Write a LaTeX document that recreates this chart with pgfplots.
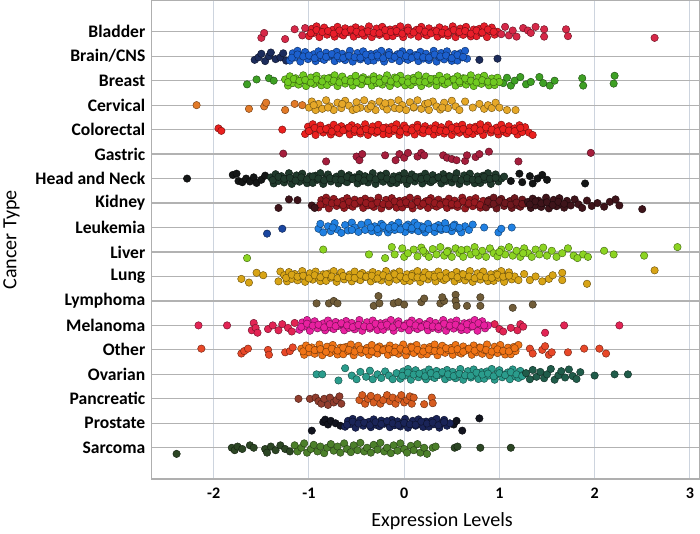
\documentclass[border=0pt]{standalone}
\usepackage{pgfplots}
\pgfplotsset{compat=1.18}
\usepackage{fontspec}
\setmainfont{Carlito}
\definecolor{bladC}{RGB}{232,30,42}
\definecolor{bladR}{RGB}{214,40,72}
\definecolor{brainC}{RGB}{28,96,206}
\definecolor{brainD}{RGB}{28,44,92}
\definecolor{breaC}{RGB}{112,202,32}
\definecolor{breaD}{RGB}{62,160,36}
\definecolor{cervC}{RGB}{230,168,40}
\definecolor{cervO}{RGB}{226,122,40}
\definecolor{coloC}{RGB}{234,32,30}
\definecolor{gastC}{RGB}{165,30,60}
\definecolor{headC}{RGB}{32,58,44}
\definecolor{headK}{RGB}{20,22,22}
\definecolor{kidC}{RGB}{150,26,32}
\definecolor{kidM}{RGB}{110,24,30}
\definecolor{kidD}{RGB}{62,20,26}
\definecolor{leuC}{RGB}{32,128,226}
\definecolor{leuD}{RGB}{26,70,160}
\definecolor{livC}{RGB}{140,212,34}
\definecolor{lunC}{RGB}{216,164,22}
\definecolor{lymC}{RGB}{112,92,56}
\definecolor{melC}{RGB}{232,32,160}
\definecolor{melR}{RGB}{226,36,84}
\definecolor{othC}{RGB}{240,116,22}
\definecolor{othR}{RGB}{232,72,40}
\definecolor{ovaC}{RGB}{42,156,140}
\definecolor{ovaD}{RGB}{32,92,74}
\definecolor{panC}{RGB}{214,92,32}
\definecolor{panD}{RGB}{146,62,46}
\definecolor{proC}{RGB}{26,36,88}
\definecolor{proK}{RGB}{18,20,30}
\definecolor{sarC}{RGB}{76,128,42}
\definecolor{sarD}{RGB}{44,70,36}
\definecolor{gridX}{RGB}{205,212,222}
\definecolor{gridY}{RGB}{178,178,178}
\definecolor{frameC}{RGB}{175,175,175}
\pgfplotsset{dot/.style={only marks, mark=*, mark size=3.7pt, mark options={fill=#1, draw=#1!50!black, line width=0.45pt}}}
\begin{document}
\begin{tikzpicture}
\begin{axis}[
 scale only axis, width=545pt, height=476pt,
 xmin=-2.65, xmax=3.1, ymin=-1.27, ymax=18.27, y dir=reverse,
 xtick={-2,-1,0,1,2,3}, xticklabels={-2,-1,0,1,2,3},
 ytick={0,1,2,3,4,5,6,7,8,9,10,11,12,13,14,15,16,17},
 yticklabels={Bladder,Brain/CNS,Breast,Cervical,Colorectal,Gastric,Head and Neck,Kidney,Leukemia,Liver,Lung,Lymphoma,Melanoma,Other,Ovarian,Pancreatic,Prostate,Sarcoma},
 major tick length=0pt,
 xmajorgrids, ymajorgrids,
 x grid style={draw=gridX, line width=1pt},
 y grid style={draw=gridY, line width=1.2pt},
 axis line style={draw=frameC, line width=1.3pt},
 xticklabel style={font=\bfseries\fontsize{16}{16}\selectfont, yshift=-6pt},
 yticklabel style={font=\bfseries\fontsize{17.5}{17.5}\selectfont, xshift=-3pt},
 xlabel={Expression Levels}, ylabel={Cancer Type},
 xlabel style={font=\fontsize{20}{24}\selectfont, at={(axis description cs:0.53,0)}, anchor=north, yshift=-30pt},
 ylabel style={font=\fontsize{20}{24}\selectfont, at={(axis description cs:-0.235,0.5)}, anchor=south},
]
% Bladder (0)
\addplot[dot=bladC] table[row sep=\\, y expr=\thisrow{j}+0]{x j\\
-1.00 0.18\\ -0.97 -0.12\\ -0.95 0.05\\ -0.92 -0.22\\ -0.89 0.22\\ -0.86 -0.03\\ -0.84 -0.17\\ -0.81 0.12\\ -0.78 0.00\\ -0.75 -0.08\\ -0.73 0.20\\ -0.70 -0.20\\ -0.67 0.09\\ -0.64 0.15\\ -0.62 -0.14\\ -0.59 0.02\\
-0.56 -0.05\\ -0.53 0.20\\ -0.51 -0.18\\ -0.48 0.10\\ -0.45 -0.10\\ -0.42 0.16\\ -0.40 0.00\\ -0.37 -0.22\\ -0.34 0.22\\ -0.31 0.04\\ -0.29 -0.13\\ -0.26 0.13\\ -0.23 -0.20\\ -0.20 0.07\\ -0.18 0.19\\ -0.15 -0.09\\
-0.12 0.18\\ -0.09 -0.12\\ -0.07 0.05\\ -0.04 -0.22\\ -0.01 0.22\\ 0.02 -0.03\\ 0.04 -0.17\\ 0.07 0.12\\ 0.10 0.00\\ 0.13 -0.08\\ 0.15 0.20\\ 0.18 -0.20\\ 0.21 0.09\\ 0.24 0.15\\ 0.26 -0.14\\ 0.29 0.02\\
0.32 -0.05\\ 0.35 0.20\\ 0.37 -0.18\\ 0.40 0.10\\ 0.43 -0.10\\ 0.46 0.16\\ 0.48 0.00\\ 0.51 -0.22\\ 0.54 0.22\\ 0.57 0.04\\ 0.59 -0.13\\ 0.62 0.13\\ 0.65 -0.20\\ 0.68 0.07\\ 0.70 0.19\\ 0.73 -0.09\\
0.76 0.18\\ 0.79 -0.12\\ 0.81 0.05\\ 0.84 -0.22\\ 0.87 0.22\\ 0.90 -0.03\\ 0.92 -0.17\\ 0.95 0.12\\ 0.98 0.00\\
-0.98 0.06\\ -0.92 -0.07\\ -0.86 0.01\\ -0.80 -0.03\\ -0.74 0.08\\ -0.68 -0.05\\ -0.62 0.03\\ -0.56 -0.09\\ -0.50 0.00\\ -0.44 0.07\\ -0.38 -0.02\\ -0.32 0.04\\ -0.26 0.06\\ -0.20 -0.07\\ -0.14 0.01\\ -0.08 -0.03\\ -0.02 0.08\\ 0.04 -0.05\\ 0.10 0.03\\ 0.16 -0.09\\ 0.22 0.00\\ 0.28 0.07\\ 0.34 -0.02\\ 0.40 0.04\\ 0.46 0.06\\ 0.52 -0.07\\ 0.58 0.01\\ 0.64 -0.03\\ 0.70 0.08\\ 0.76 -0.05\\ 0.82 0.03\\ 0.88 -0.09\\ 0.94 0.00\\
};
\addplot[dot=bladR] table[row sep=\\, y expr=\thisrow{j}+0]{x j\\
-1.50 0.25\\ -1.47 0.05\\ -1.25 0.30\\ -1.15 -0.10\\ -1.07 0.15\\ -1.04 -0.15\\ 1.02 0.10\\ 1.06 -0.20\\ 1.10 0.15\\ 1.14 -0.05\\ 1.18 0.20\\ 1.25 -0.15\\ 1.30 -0.05\\ 1.33 0.05\\ 1.38 -0.20\\ 1.47 -0.10\\ 1.47 0.20\\ 1.70 -0.10\\ 1.72 0.18\\ 2.63 0.25\\
};
% Brain (1)
\addplot[dot=brainD] table[row sep=\\, y expr=\thisrow{j}+1]{x j\\
-1.57 0.15\\ -1.53 0.05\\ -1.50 -0.10\\ -1.46 0.20\\ -1.42 0.00\\ -1.40 -0.15\\ -1.35 0.12\\ -1.30 0.05\\ -1.27 -0.12\\ -1.24 0.18\\ 0.79 0.15\\ 0.98 0.10\\
};
\addplot[dot=brainC] table[row sep=\\, y expr=\thisrow{j}+1]{x j\\
-1.20 0.18\\ -1.17 -0.12\\ -1.15 0.05\\ -1.12 -0.22\\ -1.09 0.22\\ -1.06 -0.03\\ -1.04 -0.17\\ -1.01 0.12\\ -0.98 0.00\\ -0.95 -0.08\\ -0.93 0.20\\ -0.90 -0.20\\ -0.87 0.09\\ -0.84 0.15\\ -0.82 -0.14\\ -0.79 0.02\\
-0.76 -0.05\\ -0.73 0.20\\ -0.71 -0.18\\ -0.68 0.10\\ -0.65 -0.10\\ -0.62 0.16\\ -0.60 0.00\\ -0.57 -0.22\\ -0.54 0.22\\ -0.51 0.04\\ -0.49 -0.13\\ -0.46 0.13\\ -0.43 -0.20\\ -0.40 0.07\\ -0.38 0.19\\ -0.35 -0.09\\
-0.32 0.18\\ -0.29 -0.12\\ -0.27 0.05\\ -0.24 -0.22\\ -0.21 0.22\\ -0.18 -0.03\\ -0.16 -0.17\\ -0.13 0.12\\ -0.10 0.00\\ -0.07 -0.08\\ -0.05 0.20\\ -0.02 -0.20\\ 0.01 0.09\\ 0.04 0.15\\ 0.06 -0.14\\ 0.09 0.02\\
0.12 -0.05\\ 0.15 0.20\\ 0.17 -0.18\\ 0.20 0.10\\ 0.23 -0.10\\ 0.26 0.16\\ 0.28 0.00\\ 0.31 -0.22\\ 0.34 0.22\\ 0.37 0.04\\ 0.39 -0.13\\ 0.42 0.13\\ 0.45 -0.20\\ 0.48 0.07\\ 0.50 0.19\\ 0.53 -0.09\\
0.56 0.18\\ 0.59 -0.12\\ 0.61 0.05\\ 0.64 -0.22\\ 0.66 0.10\\
-1.18 0.06\\ -1.12 -0.07\\ -1.06 0.01\\ -1.00 -0.03\\ -0.94 0.08\\ -0.88 -0.05\\ -0.82 0.03\\ -0.76 -0.09\\ -0.70 0.00\\ -0.64 0.07\\ -0.58 -0.02\\ -0.52 0.04\\ -0.46 0.06\\ -0.40 -0.07\\ -0.34 0.01\\ -0.28 -0.03\\ -0.22 0.08\\ -0.16 -0.05\\ -0.10 0.03\\ -0.04 -0.09\\ 0.02 0.00\\ 0.08 0.07\\ 0.14 -0.02\\ 0.20 0.04\\ 0.26 0.06\\ 0.32 -0.07\\ 0.38 0.01\\ 0.44 -0.03\\ 0.50 0.08\\ 0.56 -0.05\\ 0.62 0.03\\
};
% Breast (2)
\addplot[dot=breaD] table[row sep=\\, y expr=\thisrow{j}+2]{x j\\
-1.65 0.15\\ -1.55 -0.05\\ -1.42 -0.10\\ -1.37 0.00\\ 1.04 0.10\\ 1.08 -0.12\\ 1.12 0.20\\ 1.16 0.00\\ 1.22 -0.15\\ 1.28 0.15\\ 1.33 0.05\\ 1.42 -0.15\\ 1.46 0.10\\ 1.53 0.20\\ 1.58 0.00\\ 1.87 -0.10\\ 1.88 0.20\\ 2.21 -0.20\\ 2.20 0.12\\
};
\addplot[dot=breaC] table[row sep=\\, y expr=\thisrow{j}+2]{x j\\
-1.25 -0.05\\ -1.22 0.20\\ -1.20 -0.18\\ -1.17 0.10\\ -1.14 -0.10\\ -1.11 0.16\\ -1.09 0.00\\ -1.06 -0.22\\ -1.03 0.22\\ -1.00 0.04\\ -0.98 -0.13\\ -0.95 0.13\\ -0.92 -0.20\\ -0.89 0.07\\ -0.87 0.19\\ -0.84 -0.09\\
-0.81 0.18\\ -0.78 -0.12\\ -0.76 0.05\\ -0.73 -0.22\\ -0.70 0.22\\ -0.67 -0.03\\ -0.65 -0.17\\ -0.62 0.12\\ -0.59 0.00\\ -0.56 -0.08\\ -0.54 0.20\\ -0.51 -0.20\\ -0.48 0.09\\ -0.45 0.15\\ -0.43 -0.14\\ -0.40 0.02\\
-0.37 -0.05\\ -0.34 0.20\\ -0.32 -0.18\\ -0.29 0.10\\ -0.26 -0.10\\ -0.23 0.16\\ -0.21 0.00\\ -0.18 -0.22\\ -0.15 0.22\\ -0.12 0.04\\ -0.10 -0.13\\ -0.07 0.13\\ -0.04 -0.20\\ -0.01 0.07\\ 0.01 0.19\\ 0.04 -0.09\\
0.07 0.18\\ 0.10 -0.12\\ 0.12 0.05\\ 0.15 -0.22\\ 0.18 0.22\\ 0.21 -0.03\\ 0.23 -0.17\\ 0.26 0.12\\ 0.29 0.00\\ 0.32 -0.08\\ 0.34 0.20\\ 0.37 -0.20\\ 0.40 0.09\\ 0.43 0.15\\ 0.45 -0.14\\ 0.48 0.02\\
0.51 -0.05\\ 0.54 0.20\\ 0.56 -0.18\\ 0.59 0.10\\ 0.62 -0.10\\ 0.65 0.16\\ 0.67 0.00\\ 0.70 -0.22\\ 0.73 0.22\\ 0.76 0.04\\ 0.78 -0.13\\ 0.81 0.13\\ 0.84 -0.20\\ 0.87 0.07\\ 0.89 0.19\\ 0.92 -0.09\\
0.95 0.18\\ 0.98 -0.12\\ 1.00 0.05\\
-1.22 0.06\\ -1.16 -0.07\\ -1.10 0.01\\ -1.04 -0.03\\ -0.98 0.08\\ -0.92 -0.05\\ -0.86 0.03\\ -0.80 -0.09\\ -0.74 0.00\\ -0.68 0.07\\ -0.62 -0.02\\ -0.56 0.04\\ -0.50 0.06\\ -0.44 -0.07\\ -0.38 0.01\\ -0.32 -0.03\\ -0.26 0.08\\ -0.20 -0.05\\ -0.14 0.03\\ -0.08 -0.09\\ -0.02 0.00\\ 0.04 0.07\\ 0.10 -0.02\\ 0.16 0.04\\ 0.22 0.06\\ 0.28 -0.07\\ 0.34 0.01\\ 0.40 -0.03\\ 0.46 0.08\\ 0.52 -0.05\\ 0.58 0.03\\ 0.64 -0.09\\ 0.70 0.00\\ 0.76 0.07\\ 0.82 -0.02\\ 0.88 0.04\\ 0.94 0.06\\
};
% Cervical (3)
\addplot[dot=cervO] table[row sep=\\, y expr=\thisrow{j}+3]{x j\\
-2.18 0.00\\ -1.63 0.15\\ -1.47 0.05\\ -1.45 -0.10\\ -1.25 0.20\\ -1.15 -0.05\\ -1.07 0.00\\
};
\addplot[dot=cervC] table[row sep=\\, y expr=\thisrow{j}+3]{x j\\
-1.00 0.10\\ -0.97 -0.15\\ -0.93 0.20\\ -0.90 -0.05\\ -0.86 0.15\\ -0.82 -0.20\\ -0.78 0.05\\ -0.74 0.20\\ -0.70 -0.10\\ -0.66 0.12\\ -0.62 -0.18\\ -0.58 0.02\\ -0.54 0.20\\ -0.50 -0.12\\ -0.46 0.10\\ -0.42 -0.20\\ -0.38 0.15\\ -0.34 -0.05\\ -0.30 0.20\\ -0.26 -0.15\\ -0.22 0.05\\ -0.18 0.18\\ -0.14 -0.10\\ -0.10 0.12\\ -0.06 -0.20\\ -0.02 0.00\\ 0.02 0.20\\ 0.06 -0.12\\ 0.10 0.10\\ 0.14 -0.20\\ 0.18 0.15\\ 0.22 -0.05\\ 0.26 0.20\\ 0.30 -0.15\\ 0.34 0.05\\ 0.38 0.18\\ 0.42 -0.10\\ 0.46 0.12\\ 0.50 -0.18\\ 0.54 0.05\\ 0.58 0.20\\
-0.95 0.00\\ -0.80 0.10\\ -0.65 -0.05\\ -0.50 0.15\\ -0.35 0.05\\ -0.20 -0.08\\ -0.05 0.15\\ 0.10 0.08\\ 0.25 -0.08\\ 0.40 0.10\\
0.64 -0.15\\ 0.72 0.10\\ 0.79 -0.05\\ 0.84 0.15\\ 0.88 0.00\\ 0.92 0.12\\ 0.96 -0.10\\ 1.00 0.10\\ 1.08 0.20\\ 1.17 0.20\\
};
% Colorectal (4)
\addplot[dot=coloC] table[row sep=\\, y expr=\thisrow{j}+4]{x j\\
-1.95 -0.05\\ -1.92 0.05\\ -1.28 0.00\\
-1.04 0.18\\ -1.01 -0.12\\ -0.99 0.05\\ -0.96 -0.22\\ -0.93 0.22\\ -0.90 -0.03\\ -0.88 -0.17\\ -0.85 0.12\\ -0.82 0.00\\ -0.79 -0.08\\ -0.77 0.20\\ -0.74 -0.20\\ -0.71 0.09\\ -0.68 0.15\\ -0.66 -0.14\\ -0.63 0.02\\
-0.60 -0.05\\ -0.57 0.20\\ -0.55 -0.18\\ -0.52 0.10\\ -0.49 -0.10\\ -0.46 0.16\\ -0.44 0.00\\ -0.41 -0.22\\ -0.38 0.22\\ -0.35 0.04\\ -0.33 -0.13\\ -0.30 0.13\\ -0.27 -0.20\\ -0.24 0.07\\ -0.22 0.19\\ -0.19 -0.09\\
-0.16 0.18\\ -0.13 -0.12\\ -0.11 0.05\\ -0.08 -0.22\\ -0.05 0.22\\ -0.02 -0.03\\ 0.00 -0.17\\ 0.03 0.12\\ 0.06 0.00\\ 0.09 -0.08\\ 0.11 0.20\\ 0.14 -0.20\\ 0.17 0.09\\ 0.20 0.15\\ 0.22 -0.14\\ 0.25 0.02\\
0.28 -0.05\\ 0.31 0.20\\ 0.33 -0.18\\ 0.36 0.10\\ 0.39 -0.10\\ 0.42 0.16\\ 0.44 0.00\\ 0.47 -0.22\\ 0.50 0.22\\ 0.53 0.04\\ 0.55 -0.13\\ 0.58 0.13\\ 0.61 -0.20\\ 0.64 0.07\\ 0.66 0.19\\ 0.69 -0.09\\
0.72 0.18\\ 0.75 -0.12\\ 0.77 0.05\\ 0.80 -0.22\\ 0.83 0.22\\ 0.86 -0.03\\ 0.88 -0.17\\ 0.91 0.12\\ 0.94 0.00\\ 0.97 -0.08\\ 0.99 0.20\\ 1.02 -0.20\\ 1.05 0.09\\ 1.08 0.15\\ 1.10 -0.14\\ 1.13 0.02\\
1.16 -0.05\\ 1.19 0.20\\ 1.21 -0.18\\ 1.24 0.10\\ 1.27 -0.10\\ 1.31 0.12\\ 1.35 0.22\\
-1.00 0.06\\ -0.94 -0.07\\ -0.88 0.01\\ -0.82 -0.03\\ -0.76 0.08\\ -0.70 -0.05\\ -0.64 0.03\\ -0.58 -0.09\\ -0.52 0.00\\ -0.46 0.07\\ -0.40 -0.02\\ -0.34 0.04\\ -0.28 0.06\\ -0.22 -0.07\\ -0.16 0.01\\ -0.10 -0.03\\ -0.04 0.08\\ 0.02 -0.05\\ 0.08 0.03\\ 0.14 -0.09\\ 0.20 0.00\\ 0.26 0.07\\ 0.32 -0.02\\ 0.38 0.04\\ 0.44 0.06\\ 0.50 -0.07\\ 0.56 0.01\\ 0.62 -0.03\\ 0.68 0.08\\ 0.74 -0.05\\ 0.80 0.03\\ 0.86 -0.09\\ 0.92 0.00\\ 0.98 0.07\\ 1.04 -0.02\\ 1.10 0.04\\ 1.16 0.06\\ 1.22 -0.07\\
};
% Gastric (5)
\addplot[dot=gastC] table[row sep=\\, y expr=\thisrow{j}+5]{x j\\
-1.27 -0.02\\ -0.82 0.30\\ -0.50 0.10\\ -0.47 0.25\\ -0.44 0.00\\ -0.20 0.05\\ -0.09 0.25\\ -0.05 0.00\\ 0.00 0.15\\ 0.04 -0.05\\ 0.14 0.10\\ 0.18 -0.05\\ 0.21 0.05\\ 0.41 0.05\\ 0.45 0.15\\ 0.50 0.20\\ 0.55 0.25\\ 0.64 0.28\\ 0.66 0.05\\ 0.75 0.12\\ 0.79 0.00\\ 0.89 -0.10\\ 1.20 0.30\\ 1.96 -0.05\\
};
% Head and Neck (6)
\addplot[dot=headK] table[row sep=\\, y expr=\thisrow{j}+6]{x j\\
-2.28 0.00\\ -1.80 -0.15\\ -1.76 -0.20\\ -1.74 0.10\\ -1.70 0.15\\ -1.66 0.00\\ -1.62 0.12\\ -1.58 -0.05\\ -1.55 0.18\\ -1.50 0.05\\ -1.46 -0.12\\
1.12 0.10\\ 1.21 -0.20\\ 1.24 0.15\\ 1.32 -0.10\\ 1.35 0.20\\ 1.40 0.00\\ 1.45 -0.15\\ 1.50 0.05\\ 1.90 0.20\\
};
\addplot[dot=headC] table[row sep=\\, y expr=\thisrow{j}+6]{x j\\
-1.40 -0.05\\ -1.37 0.20\\ -1.35 -0.18\\ -1.32 0.10\\ -1.29 -0.10\\ -1.26 0.16\\ -1.24 0.00\\ -1.21 -0.22\\ -1.18 0.22\\ -1.15 0.04\\ -1.13 -0.13\\ -1.10 0.13\\ -1.07 -0.20\\ -1.04 0.07\\ -1.02 0.19\\ -0.99 -0.09\\
-0.96 0.18\\ -0.93 -0.12\\ -0.91 0.05\\ -0.88 -0.22\\ -0.85 0.22\\ -0.82 -0.03\\ -0.80 -0.17\\ -0.77 0.12\\ -0.74 0.00\\ -0.71 -0.08\\ -0.69 0.20\\ -0.66 -0.20\\ -0.63 0.09\\ -0.60 0.15\\ -0.58 -0.14\\ -0.55 0.02\\
-0.52 -0.05\\ -0.49 0.20\\ -0.47 -0.18\\ -0.44 0.10\\ -0.41 -0.10\\ -0.38 0.16\\ -0.36 0.00\\ -0.33 -0.22\\ -0.30 0.22\\ -0.27 0.04\\ -0.25 -0.13\\ -0.22 0.13\\ -0.19 -0.20\\ -0.16 0.07\\ -0.14 0.19\\ -0.11 -0.09\\
-0.08 0.18\\ -0.05 -0.12\\ -0.03 0.05\\ 0.00 -0.22\\ 0.03 0.22\\ 0.06 -0.03\\ 0.08 -0.17\\ 0.11 0.12\\ 0.14 0.00\\ 0.17 -0.08\\ 0.19 0.20\\ 0.22 -0.20\\ 0.25 0.09\\ 0.28 0.15\\ 0.30 -0.14\\ 0.33 0.02\\
0.36 -0.05\\ 0.39 0.20\\ 0.41 -0.18\\ 0.44 0.10\\ 0.47 -0.10\\ 0.50 0.16\\ 0.52 0.00\\ 0.55 -0.22\\ 0.58 0.22\\ 0.61 0.04\\ 0.63 -0.13\\ 0.66 0.13\\ 0.69 -0.20\\ 0.72 0.07\\ 0.74 0.19\\ 0.77 -0.09\\
0.80 0.18\\ 0.83 -0.12\\ 0.85 0.05\\ 0.88 -0.22\\ 0.91 0.22\\ 0.94 -0.03\\ 0.96 -0.17\\ 0.99 0.12\\ 1.02 0.00\\ 1.05 -0.08\\
-1.38 0.06\\ -1.32 -0.07\\ -1.26 0.01\\ -1.20 -0.03\\ -1.14 0.08\\ -1.08 -0.05\\ -1.02 0.03\\ -0.96 -0.09\\ -0.90 0.00\\ -0.84 0.07\\ -0.78 -0.02\\ -0.72 0.04\\ -0.66 0.06\\ -0.60 -0.07\\ -0.54 0.01\\ -0.48 -0.03\\ -0.42 0.08\\ -0.36 -0.05\\ -0.30 0.03\\ -0.24 -0.09\\ -0.18 0.00\\ -0.12 0.07\\ -0.06 -0.02\\ 0.00 0.04\\ 0.06 0.06\\ 0.12 -0.07\\ 0.18 0.01\\ 0.24 -0.03\\ 0.30 0.08\\ 0.36 -0.05\\ 0.42 0.03\\ 0.48 -0.09\\ 0.54 0.00\\ 0.60 0.07\\ 0.66 -0.02\\ 0.72 0.04\\ 0.78 0.06\\ 0.84 -0.07\\ 0.90 0.01\\ 0.96 -0.03\\
};
% Kidney (7)
\addplot[dot=kidC] table[row sep=\\, y expr=\thisrow{j}+7]{x j\\
-0.90 0.18\\ -0.87 -0.12\\ -0.85 0.05\\ -0.82 -0.22\\ -0.79 0.22\\ -0.76 -0.03\\ -0.74 -0.17\\ -0.71 0.12\\ -0.68 0.00\\ -0.65 -0.08\\ -0.63 0.20\\ -0.60 -0.20\\ -0.57 0.09\\ -0.54 0.15\\ -0.52 -0.14\\ -0.49 0.02\\
-0.46 -0.05\\ -0.43 0.20\\ -0.41 -0.18\\ -0.38 0.10\\ -0.35 -0.10\\ -0.32 0.16\\ -0.30 0.00\\ -0.27 -0.22\\ -0.24 0.22\\ -0.21 0.04\\ -0.19 -0.13\\ -0.16 0.13\\ -0.13 -0.20\\ -0.10 0.07\\ -0.08 0.19\\ -0.05 -0.09\\
-0.02 0.18\\ 0.01 -0.12\\ 0.03 0.05\\ 0.06 -0.22\\ 0.09 0.22\\ 0.12 -0.03\\ 0.14 -0.17\\ 0.17 0.12\\ 0.20 0.00\\ 0.23 -0.08\\ 0.25 0.20\\ 0.28 -0.20\\ 0.31 0.09\\ 0.34 0.15\\ 0.36 -0.14\\ 0.39 0.02\\
0.42 -0.05\\ 0.45 0.20\\ 0.47 -0.18\\ 0.50 0.10\\ 0.53 -0.10\\ 0.56 0.16\\ 0.58 0.00\\ 0.61 -0.22\\ 0.64 0.22\\ 0.67 0.04\\ 0.69 -0.13\\ 0.72 0.13\\ 0.75 -0.20\\ 0.78 0.07\\ 0.80 0.19\\ 0.83 -0.09\\
-0.88 0.06\\ -0.82 -0.07\\ -0.76 0.01\\ -0.70 -0.03\\ -0.64 0.08\\ -0.58 -0.05\\ -0.52 0.03\\ -0.46 -0.09\\ -0.40 0.00\\ -0.34 0.07\\ -0.28 -0.02\\ -0.22 0.04\\ -0.16 0.06\\ -0.10 -0.07\\ -0.04 0.01\\ 0.02 -0.03\\ 0.08 0.08\\ 0.14 -0.05\\ 0.20 0.03\\ 0.26 -0.09\\ 0.32 0.00\\ 0.38 0.07\\ 0.44 -0.02\\ 0.50 0.04\\ 0.56 0.06\\ 0.62 -0.07\\ 0.68 0.01\\ 0.74 -0.03\\ 0.80 0.08\\
};
\addplot[dot=kidM] table[row sep=\\, y expr=\thisrow{j}+7]{x j\\
0.86 0.18\\ 0.89 -0.12\\ 0.91 0.05\\ 0.94 -0.22\\ 0.97 0.22\\ 1.00 -0.03\\ 1.02 -0.17\\ 1.05 0.12\\ 1.08 0.00\\ 1.11 -0.08\\ 1.13 0.20\\ 1.16 -0.20\\ 1.19 0.09\\ 1.22 0.15\\ 1.24 -0.14\\ 1.27 0.02\\
0.88 -0.05\\ 0.94 0.03\\ 1.00 -0.09\\ 1.06 0.00\\ 1.12 0.07\\ 1.18 -0.02\\ 1.24 0.04\\
};
\addplot[dot=kidD] table[row sep=\\, y expr=\thisrow{j}+7]{x j\\
-1.32 0.20\\ -1.21 -0.15\\ -1.12 -0.12\\ -0.97 0.10\\ -0.94 0.20\\
1.30 -0.05\\ 1.33 0.20\\ 1.35 -0.18\\ 1.38 0.10\\ 1.41 -0.10\\ 1.44 0.16\\ 1.46 0.00\\ 1.49 -0.22\\ 1.52 0.22\\ 1.55 0.04\\ 1.57 -0.13\\ 1.60 0.13\\ 1.63 -0.20\\ 1.66 0.07\\ 1.68 0.19\\ 1.71 -0.09\\
1.32 0.06\\ 1.38 -0.07\\ 1.44 0.01\\ 1.50 -0.03\\ 1.56 0.08\\ 1.62 -0.05\\ 1.68 0.03\\
1.75 0.10\\ 1.79 -0.15\\ 1.83 0.05\\ 1.87 0.20\\ 1.92 -0.10\\ 1.97 0.12\\ 2.03 0.00\\ 2.10 0.15\\ 2.16 -0.05\\ 2.22 -0.15\\ 2.26 0.10\\ 2.50 0.25\\
};
% Leukemia (8)
\addplot[dot=leuD] table[row sep=\\, y expr=\thisrow{j}+8]{x j\\
-1.44 0.25\\ -1.28 0.05\\
};
\addplot[dot=leuC] table[row sep=\\, y expr=\thisrow{j}+8]{x j\\
-0.90 0.05\\ -0.88 -0.15\\ -0.85 0.20\\ -0.80 -0.05\\ -0.77 0.15\\ -0.73 -0.18\\ -0.70 0.08\\ -0.66 0.22\\ -0.62 -0.10\\ -0.59 0.12\\ -0.55 -0.20\\ -0.52 0.00\\ -0.48 0.18\\ -0.45 -0.12\\ -0.41 0.10\\ -0.38 -0.20\\ -0.34 0.15\\ -0.31 -0.05\\ -0.27 0.20\\ -0.24 -0.15\\ -0.20 0.05\\ -0.17 0.20\\ -0.13 -0.10\\ -0.10 0.10\\ -0.06 -0.20\\ -0.03 0.02\\ 0.01 0.18\\ 0.04 -0.12\\ 0.08 0.10\\ 0.11 -0.20\\ 0.15 0.15\\ 0.18 -0.05\\ 0.22 0.20\\ 0.25 -0.15\\ 0.29 0.05\\ 0.32 0.18\\ 0.36 -0.10\\ 0.39 0.10\\ 0.43 -0.18\\ 0.46 0.05\\ 0.50 0.15\\ 0.53 -0.12\\ 0.57 0.05\\ 0.60 0.20\\ 0.64 -0.05\\ 0.68 0.10\\ 0.72 -0.12\\
-0.35 0.00\\ -0.15 0.08\\ 0.05 0.00\\ 0.20 0.05\\ 0.35 0.02\\ 0.50 -0.02\\ -0.55 0.10\\ -0.75 0.00\\
-0.28 0.06\\ -0.22 -0.07\\ -0.16 0.01\\ -0.10 -0.03\\ -0.04 0.08\\ 0.02 -0.05\\ 0.08 0.03\\ 0.14 -0.09\\ 0.20 0.00\\ 0.26 0.07\\ 0.32 -0.02\\ 0.38 0.04\\ 0.44 0.06\\ 0.52 -0.07\\ 0.58 0.01\\
0.84 0.00\\ 0.99 0.20\\ 1.02 0.05\\ 1.13 0.00\\
};
% Liver (9)
\addplot[dot=livC] table[row sep=\\, y expr=\thisrow{j}+9]{x j\\
-1.65 0.25\\ -0.85 -0.10\\ -0.37 0.10\\ -0.20 0.25\\ -0.13 -0.20\\ -0.10 0.10\\ -0.02 -0.15\\ 0.00 0.20\\ 0.04 0.05\\ 0.10 -0.10\\ 0.14 0.18\\ 0.18 -0.18\\ 0.22 0.05\\ 0.26 0.20\\ 0.30 -0.12\\ 0.34 0.10\\ 0.38 -0.20\\ 0.42 0.15\\ 0.46 -0.05\\ 0.50 0.20\\ 0.54 -0.15\\ 0.58 0.05\\ 0.62 0.20\\ 0.66 -0.10\\ 0.70 0.10\\ 0.74 -0.20\\ 0.78 0.15\\ 0.82 -0.05\\ 0.86 0.20\\ 0.90 -0.15\\ 0.94 0.05\\ 0.98 0.18\\ 1.02 -0.10\\ 1.06 0.10\\ 1.10 -0.20\\ 1.14 0.15\\ 1.18 -0.05\\ 1.22 0.20\\ 1.26 -0.15\\ 1.30 0.05\\ 1.34 0.20\\ 1.38 -0.10\\ 1.42 0.10\\ 1.46 -0.18\\ 1.50 0.15\\ 1.55 -0.05\\ 1.60 0.20\\ 1.66 0.05\\ 1.72 -0.15\\ 1.78 0.15\\ 1.82 0.25\\ 1.88 0.10\\ 1.93 0.20\\ 2.10 -0.05\\ 2.20 0.10\\ 2.52 0.15\\ 2.87 -0.20\\
0.20 -0.05\\ 0.45 0.00\\ 0.60 -0.08\\ 0.75 0.02\\ 1.00 0.00\\ 1.25 0.05\\
};
% Lung (10)
\addplot[dot=lunC] table[row sep=\\, y expr=\thisrow{j}+10]{x j\\
-1.71 0.10\\ -1.63 0.25\\ -1.55 -0.15\\ -1.48 -0.05\\ -1.32 0.20\\ -1.30 -0.20\\
-1.26 -0.05\\ -1.23 0.20\\ -1.21 -0.18\\ -1.18 0.10\\ -1.15 -0.10\\ -1.12 0.16\\ -1.10 0.00\\ -1.07 -0.22\\ -1.04 0.22\\ -1.01 0.04\\ -0.99 -0.13\\ -0.96 0.13\\ -0.93 -0.20\\ -0.90 0.07\\ -0.88 0.19\\ -0.85 -0.09\\
-0.82 0.18\\ -0.79 -0.12\\ -0.77 0.05\\ -0.74 -0.22\\ -0.71 0.22\\ -0.68 -0.03\\ -0.66 -0.17\\ -0.63 0.12\\ -0.60 0.00\\ -0.57 -0.08\\ -0.55 0.20\\ -0.52 -0.20\\ -0.49 0.09\\ -0.46 0.15\\ -0.44 -0.14\\ -0.41 0.02\\
-0.38 -0.05\\ -0.35 0.20\\ -0.33 -0.18\\ -0.30 0.10\\ -0.27 -0.10\\ -0.24 0.16\\ -0.22 0.00\\ -0.19 -0.22\\ -0.16 0.22\\ -0.13 0.04\\ -0.11 -0.13\\ -0.08 0.13\\ -0.05 -0.20\\ -0.02 0.07\\ 0.00 0.19\\ 0.03 -0.09\\
0.06 0.18\\ 0.09 -0.12\\ 0.11 0.05\\ 0.14 -0.22\\ 0.17 0.22\\ 0.20 -0.03\\ 0.22 -0.17\\ 0.25 0.12\\ 0.28 0.00\\ 0.31 -0.08\\ 0.33 0.20\\ 0.36 -0.20\\ 0.39 0.09\\ 0.42 0.15\\ 0.44 -0.14\\ 0.47 0.02\\
0.50 -0.05\\ 0.53 0.20\\ 0.55 -0.18\\ 0.58 0.10\\ 0.61 -0.10\\ 0.64 0.16\\ 0.66 0.00\\ 0.69 -0.22\\ 0.72 0.22\\ 0.75 0.04\\ 0.77 -0.13\\ 0.80 0.13\\ 0.83 -0.20\\ 0.86 0.07\\ 0.88 0.19\\ 0.91 -0.09\\
0.94 0.18\\ 0.97 -0.12\\ 0.99 0.05\\ 1.02 -0.22\\ 1.05 0.22\\ 1.08 -0.03\\ 1.10 -0.17\\ 1.13 0.12\\ 1.16 0.00\\ 1.20 0.15\\
-1.24 0.06\\ -1.18 -0.07\\ -1.12 0.01\\ -1.06 -0.03\\ -1.00 0.08\\ -0.94 -0.05\\ -0.88 0.03\\ -0.82 -0.09\\ -0.76 0.00\\ -0.70 0.07\\ -0.64 -0.02\\ -0.58 0.04\\ -0.52 0.06\\ -0.46 -0.07\\ -0.40 0.01\\ -0.34 -0.03\\ -0.28 0.08\\ -0.22 -0.05\\ -0.16 0.03\\ -0.10 -0.09\\ -0.04 0.00\\ 0.02 0.07\\ 0.08 -0.02\\ 0.14 0.04\\ 0.20 0.06\\ 0.26 -0.07\\ 0.32 0.01\\ 0.38 -0.03\\ 0.44 0.08\\ 0.50 -0.05\\ 0.56 0.03\\ 0.62 -0.09\\ 0.68 0.00\\ 0.74 0.07\\ 0.80 -0.02\\ 0.86 0.04\\ 0.92 0.06\\ 0.98 -0.07\\ 1.04 0.01\\ 1.10 -0.03\\
1.26 -0.10\\ 1.32 0.15\\ 1.38 0.00\\ 1.45 0.20\\ 1.52 0.10\\ 1.56 -0.05\\ 1.66 -0.15\\ 1.66 0.15\\ 1.92 0.30\\ 2.63 -0.25\\
};
% Lymphoma (11)
\addplot[dot=lymC] table[row sep=\\, y expr=\thisrow{j}+11]{x j\\
-0.92 0.10\\ -0.79 0.10\\ -0.74 0.00\\ -0.70 0.10\\ -0.32 0.20\\ -0.27 -0.20\\ -0.26 0.10\\ -0.11 0.10\\ -0.06 0.05\\ 0.00 0.15\\ 0.18 0.05\\ 0.21 -0.10\\ 0.38 0.10\\ 0.42 0.00\\ 0.40 -0.15\\ 0.54 -0.25\\ 0.54 0.00\\ 0.55 0.20\\ 0.66 0.20\\ 0.80 -0.15\\ 0.80 0.20\\ 1.14 0.28\\ 1.35 0.15\\
};
% Melanoma (12)
\addplot[dot=melR] table[row sep=\\, y expr=\thisrow{j}+12]{x j\\
-2.16 0.00\\ -1.86 0.00\\ -1.60 0.20\\ -1.58 -0.10\\ -1.56 0.10\\ -1.54 0.30\\ -1.43 0.15\\ -1.38 0.00\\ -1.32 0.20\\ -1.28 -0.05\\ -1.22 0.10\\ -1.18 0.25\\ -1.15 -0.10\\
0.95 -0.05\\ 1.00 0.15\\ 1.04 0.25\\ 1.12 0.10\\ 1.19 0.20\\ 1.22 -0.05\\ 1.25 0.05\\ 1.48 0.30\\ 1.68 0.00\\ 2.26 0.00\\
};
\addplot[dot=melC] table[row sep=\\, y expr=\thisrow{j}+12]{x j\\
-1.10 0.18\\ -1.07 -0.12\\ -1.05 0.05\\ -1.02 -0.22\\ -0.99 0.22\\ -0.96 -0.03\\ -0.94 -0.17\\ -0.91 0.12\\ -0.88 0.00\\ -0.85 -0.08\\ -0.83 0.20\\ -0.80 -0.20\\ -0.77 0.09\\ -0.74 0.15\\ -0.72 -0.14\\ -0.69 0.02\\
-0.66 -0.05\\ -0.63 0.20\\ -0.61 -0.18\\ -0.58 0.10\\ -0.55 -0.10\\ -0.52 0.16\\ -0.50 0.00\\ -0.47 -0.22\\ -0.44 0.22\\ -0.41 0.04\\ -0.39 -0.13\\ -0.36 0.13\\ -0.33 -0.20\\ -0.30 0.07\\ -0.28 0.19\\ -0.25 -0.09\\
-0.22 0.18\\ -0.19 -0.12\\ -0.17 0.05\\ -0.14 -0.22\\ -0.11 0.22\\ -0.08 -0.03\\ -0.06 -0.17\\ -0.03 0.12\\ 0.00 0.00\\ 0.03 -0.08\\ 0.05 0.20\\ 0.08 -0.20\\ 0.11 0.09\\ 0.14 0.15\\ 0.16 -0.14\\ 0.19 0.02\\
0.22 -0.05\\ 0.25 0.20\\ 0.27 -0.18\\ 0.30 0.10\\ 0.33 -0.10\\ 0.36 0.16\\ 0.38 0.00\\ 0.41 -0.22\\ 0.44 0.22\\ 0.47 0.04\\ 0.49 -0.13\\ 0.52 0.13\\ 0.55 -0.20\\ 0.58 0.07\\ 0.60 0.19\\ 0.63 -0.09\\
0.66 0.18\\ 0.69 -0.12\\ 0.71 0.05\\ 0.74 -0.22\\ 0.77 0.22\\ 0.80 -0.03\\ 0.82 -0.17\\ 0.85 0.12\\ 0.88 0.00\\
-1.08 0.06\\ -1.02 -0.07\\ -0.96 0.01\\ -0.90 -0.03\\ -0.84 0.08\\ -0.78 -0.05\\ -0.72 0.03\\ -0.66 -0.09\\ -0.60 0.00\\ -0.54 0.07\\ -0.48 -0.02\\ -0.42 0.04\\ -0.36 0.06\\ -0.30 -0.07\\ -0.24 0.01\\ -0.18 -0.03\\ -0.12 0.08\\ -0.06 -0.05\\ 0.00 0.03\\ 0.06 -0.09\\ 0.12 0.00\\ 0.18 0.07\\ 0.24 -0.02\\ 0.30 0.04\\ 0.36 0.06\\ 0.42 -0.07\\ 0.48 0.01\\ 0.54 -0.03\\ 0.60 0.08\\ 0.66 -0.05\\ 0.72 0.03\\ 0.78 -0.09\\ 0.84 0.00\\
};
% Other (13)
\addplot[dot=othR] table[row sep=\\, y expr=\thisrow{j}+13]{x j\\
-2.13 -0.05\\ -1.71 0.15\\ -1.68 0.05\\ -1.64 -0.05\\ -1.43 0.00\\ -1.42 0.20\\ -1.25 0.10\\ -1.20 0.05\\ -1.17 -0.10\\
1.32 -0.05\\ 1.35 0.15\\ 1.45 0.00\\ 1.48 -0.15\\ 1.52 0.20\\ 1.55 0.10\\ 1.72 0.10\\ 1.89 -0.05\\ 2.05 -0.05\\ 2.12 0.15\\
};
\addplot[dot=othC] table[row sep=\\, y expr=\thisrow{j}+13]{x j\\
-1.08 -0.05\\ -1.05 0.20\\ -1.03 -0.18\\ -1.00 0.10\\ -0.97 -0.10\\ -0.94 0.16\\ -0.92 0.00\\ -0.89 -0.22\\ -0.86 0.22\\ -0.83 0.04\\ -0.81 -0.13\\ -0.78 0.13\\ -0.75 -0.20\\ -0.72 0.07\\ -0.70 0.19\\ -0.67 -0.09\\
-0.64 0.18\\ -0.61 -0.12\\ -0.59 0.05\\ -0.56 -0.22\\ -0.53 0.22\\ -0.50 -0.03\\ -0.48 -0.17\\ -0.45 0.12\\ -0.42 0.00\\ -0.39 -0.08\\ -0.37 0.20\\ -0.34 -0.20\\ -0.31 0.09\\ -0.28 0.15\\ -0.26 -0.14\\ -0.23 0.02\\
-0.20 -0.05\\ -0.17 0.20\\ -0.15 -0.18\\ -0.12 0.10\\ -0.09 -0.10\\ -0.06 0.16\\ -0.04 0.00\\ -0.01 -0.22\\ 0.02 0.22\\ 0.05 0.04\\ 0.07 -0.13\\ 0.10 0.13\\ 0.13 -0.20\\ 0.16 0.07\\ 0.18 0.19\\ 0.21 -0.09\\
0.24 0.18\\ 0.27 -0.12\\ 0.29 0.05\\ 0.32 -0.22\\ 0.35 0.22\\ 0.38 -0.03\\ 0.40 -0.17\\ 0.43 0.12\\ 0.46 0.00\\ 0.49 -0.08\\ 0.51 0.20\\ 0.54 -0.20\\ 0.57 0.09\\ 0.60 0.15\\ 0.62 -0.14\\ 0.65 0.02\\
0.68 -0.05\\ 0.71 0.20\\ 0.73 -0.18\\ 0.76 0.10\\ 0.79 -0.10\\ 0.82 0.16\\ 0.84 0.00\\ 0.87 -0.22\\ 0.90 0.22\\ 0.93 0.04\\ 0.95 -0.13\\ 0.98 0.13\\ 1.01 -0.20\\ 1.04 0.07\\ 1.06 0.19\\ 1.09 -0.09\\
1.12 0.18\\ 1.15 -0.12\\ 1.17 0.05\\ 1.20 -0.20\\
-1.06 0.06\\ -1.00 -0.07\\ -0.94 0.01\\ -0.88 -0.03\\ -0.82 0.08\\ -0.76 -0.05\\ -0.70 0.03\\ -0.64 -0.09\\ -0.58 0.00\\ -0.52 0.07\\ -0.46 -0.02\\ -0.40 0.04\\ -0.34 0.06\\ -0.28 -0.07\\ -0.22 0.01\\ -0.16 -0.03\\ -0.10 0.08\\ -0.04 -0.05\\ 0.02 0.03\\ 0.08 -0.09\\ 0.14 0.00\\ 0.20 0.07\\ 0.26 -0.02\\ 0.32 0.04\\ 0.38 0.06\\ 0.44 -0.07\\ 0.50 0.01\\ 0.56 -0.03\\ 0.62 0.08\\ 0.68 -0.05\\ 0.74 0.03\\ 0.80 -0.09\\ 0.86 0.00\\ 0.92 0.07\\ 0.98 -0.02\\ 1.04 0.04\\ 1.10 0.06\\ 1.16 -0.07\\
};
% Ovarian (14)
\addplot[dot=ovaC] table[row sep=\\, y expr=\thisrow{j}+14]{x j\\
-0.92 0.00\\ -0.86 0.00\\ -0.69 0.25\\ -0.62 -0.25\\ -0.55 0.05\\ -0.50 0.20\\ -0.46 -0.10\\ -0.40 0.10\\ -0.36 -0.15\\ -0.33 0.20\\ -0.28 0.00\\ -0.24 0.15\\ -0.20 -0.12\\ -0.16 0.05\\ -0.12 0.20\\ -0.08 -0.05\\
-0.04 0.18\\ -0.01 -0.12\\ 0.01 0.05\\ 0.04 -0.22\\ 0.07 0.22\\ 0.10 -0.03\\ 0.12 -0.17\\ 0.15 0.12\\ 0.18 0.00\\ 0.21 -0.08\\ 0.23 0.20\\ 0.26 -0.20\\ 0.29 0.09\\ 0.32 0.15\\ 0.34 -0.14\\ 0.37 0.02\\
0.40 -0.05\\ 0.43 0.20\\ 0.45 -0.18\\ 0.48 0.10\\ 0.51 -0.10\\ 0.54 0.16\\ 0.56 0.00\\ 0.59 -0.22\\ 0.62 0.22\\ 0.65 0.04\\ 0.67 -0.13\\ 0.70 0.13\\ 0.73 -0.20\\ 0.76 0.07\\ 0.78 0.19\\ 0.81 -0.09\\
0.84 0.18\\ 0.87 -0.12\\ 0.89 0.05\\ 0.92 -0.22\\ 0.95 0.22\\ 0.98 -0.03\\ 1.00 -0.17\\ 1.03 0.12\\ 1.06 0.00\\ 1.09 -0.08\\ 1.11 0.20\\ 1.14 -0.20\\ 1.17 0.09\\ 1.20 0.15\\ 1.22 -0.14\\ 1.25 0.02\\
-0.02 0.06\\ 0.04 -0.07\\ 0.10 0.01\\ 0.16 -0.03\\ 0.22 0.08\\ 0.28 -0.05\\ 0.34 0.03\\ 0.40 -0.09\\ 0.46 0.00\\ 0.52 0.07\\ 0.58 -0.02\\ 0.64 0.04\\ 0.70 0.06\\ 0.76 -0.07\\ 0.82 0.01\\ 0.88 -0.03\\ 0.94 0.08\\ 1.00 -0.05\\ 1.06 0.03\\ 1.12 -0.09\\ 1.18 0.00\\ 1.24 0.07\\
};
\addplot[dot=ovaD] table[row sep=\\, y expr=\thisrow{j}+14]{x j\\
1.28 -0.05\\ 1.32 0.20\\ 1.35 -0.18\\ 1.39 0.10\\ 1.43 -0.10\\ 1.47 0.16\\ 1.50 0.00\\ 1.54 -0.22\\ 1.58 0.22\\ 1.62 0.04\\ 1.65 -0.13\\ 1.69 0.13\\ 1.73 -0.20\\ 1.77 0.07\\ 1.81 0.19\\ 1.85 -0.09\\ 2.00 0.05\\ 2.21 0.00\\ 2.35 0.00\\
};
% Pancreatic (15)
\addplot[dot=panD] table[row sep=\\, y expr=\thisrow{j}+15]{x j\\
-1.11 0.00\\ -0.99 0.00\\ -0.93 -0.05\\ -0.90 0.10\\ -0.87 0.20\\ -0.84 0.00\\ -0.80 0.25\\ -0.78 -0.05\\ -0.74 0.15\\ -0.71 0.05\\ -0.68 -0.10\\ -0.66 0.20\\
};
\addplot[dot=panC] table[row sep=\\, y expr=\thisrow{j}+15]{x j\\
-0.47 0.05\\ -0.44 -0.15\\ -0.41 0.20\\ -0.38 0.00\\ -0.35 -0.12\\ -0.32 0.15\\ -0.28 -0.05\\ -0.25 0.20\\ -0.22 0.05\\ -0.18 -0.15\\ -0.15 0.10\\ -0.12 -0.05\\ -0.09 0.20\\ -0.06 0.00\\ -0.03 -0.15\\ 0.00 0.15\\ 0.03 0.05\\ 0.06 -0.10\\ 0.08 0.20\\ 0.10 -0.05\\ 0.21 0.22\\ 0.29 -0.05\\ 0.30 0.18\\
};
% Prostate (16)
\addplot[dot=proK] table[row sep=\\, y expr=\thisrow{j}+16]{x j\\
-0.97 0.30\\ -0.85 -0.05\\ -0.83 -0.15\\ -0.80 0.05\\ -0.77 -0.10\\ -0.72 0.00\\ -0.67 0.10\\
0.52 0.05\\ 0.55 -0.10\\ 0.61 0.30\\ 0.79 -0.20\\
};
\addplot[dot=proC] table[row sep=\\, y expr=\thisrow{j}+16]{x j\\
-0.62 0.14\\ -0.59 -0.10\\ -0.57 0.04\\ -0.54 -0.18\\ -0.51 0.18\\ -0.48 -0.02\\ -0.46 -0.14\\ -0.43 0.10\\ -0.40 0.00\\ -0.37 -0.06\\ -0.35 0.16\\ -0.32 -0.16\\ -0.29 0.07\\ -0.26 0.12\\ -0.24 -0.11\\ -0.21 0.02\\
-0.18 -0.04\\ -0.15 0.16\\ -0.13 -0.14\\ -0.10 0.08\\ -0.07 -0.08\\ -0.04 0.13\\ -0.02 0.00\\ 0.01 -0.18\\ 0.04 0.18\\ 0.07 0.03\\ 0.09 -0.10\\ 0.12 0.10\\ 0.15 -0.16\\ 0.18 0.06\\ 0.20 0.15\\ 0.23 -0.07\\
0.26 0.14\\ 0.29 -0.10\\ 0.31 0.04\\ 0.34 -0.18\\ 0.37 0.18\\ 0.40 -0.02\\ 0.42 -0.14\\ 0.45 0.10\\ 0.48 0.00\\
-0.60 0.06\\ -0.54 -0.07\\ -0.48 0.01\\ -0.42 -0.03\\ -0.36 0.08\\ -0.30 -0.05\\ -0.24 0.03\\ -0.18 -0.09\\ -0.12 0.00\\ -0.06 0.07\\ 0.00 -0.02\\ 0.06 0.04\\ 0.12 0.06\\ 0.18 -0.07\\ 0.24 0.01\\ 0.30 -0.03\\ 0.36 0.08\\ 0.42 -0.05\\
};
% Sarcoma (17)
\addplot[dot=sarD] table[row sep=\\, y expr=\thisrow{j}+17]{x j\\
-2.39 0.25\\ -1.81 0.00\\ -1.78 0.10\\ -1.75 -0.05\\ -1.70 0.05\\ -1.62 -0.10\\ -1.58 0.00\\ -1.46 0.05\\ -1.44 0.20\\ -1.40 -0.05\\ -1.35 0.10\\ -1.30 -0.10\\ -1.25 0.05\\ -1.20 0.15\\
0.53 0.00\\ 0.56 -0.05\\ 0.80 0.00\\ 1.12 0.00\\
};
\addplot[dot=sarC] table[row sep=\\, y expr=\thisrow{j}+17]{x j\\
-1.15 -0.10\\ -1.12 0.15\\ -1.08 0.00\\ -1.05 -0.18\\ -1.02 0.20\\ -0.98 0.05\\ -0.95 -0.12\\ -0.91 0.15\\ -0.88 -0.05\\ -0.84 0.22\\ -0.81 0.00\\ -0.77 -0.15\\ -0.74 0.12\\ -0.70 -0.05\\ -0.67 0.20\\ -0.63 -0.18\\ -0.60 0.05\\ -0.56 0.18\\ -0.53 -0.10\\ -0.49 0.10\\ -0.46 -0.20\\ -0.42 0.15\\ -0.39 0.00\\ -0.35 0.20\\ -0.32 -0.12\\ -0.28 0.08\\ -0.25 -0.20\\ -0.21 0.15\\ -0.18 0.00\\ -0.14 0.22\\ -0.11 -0.10\\ -0.07 0.12\\ -0.04 -0.18\\ 0.00 0.05\\ 0.03 0.20\\ 0.07 -0.08\\ 0.10 0.10\\ 0.14 -0.15\\ 0.17 0.20\\ 0.21 0.00\\ 0.24 0.25\\ 0.30 0.00\\ 0.33 -0.05\\
};
\end{axis}
\end{tikzpicture}
\end{document}
